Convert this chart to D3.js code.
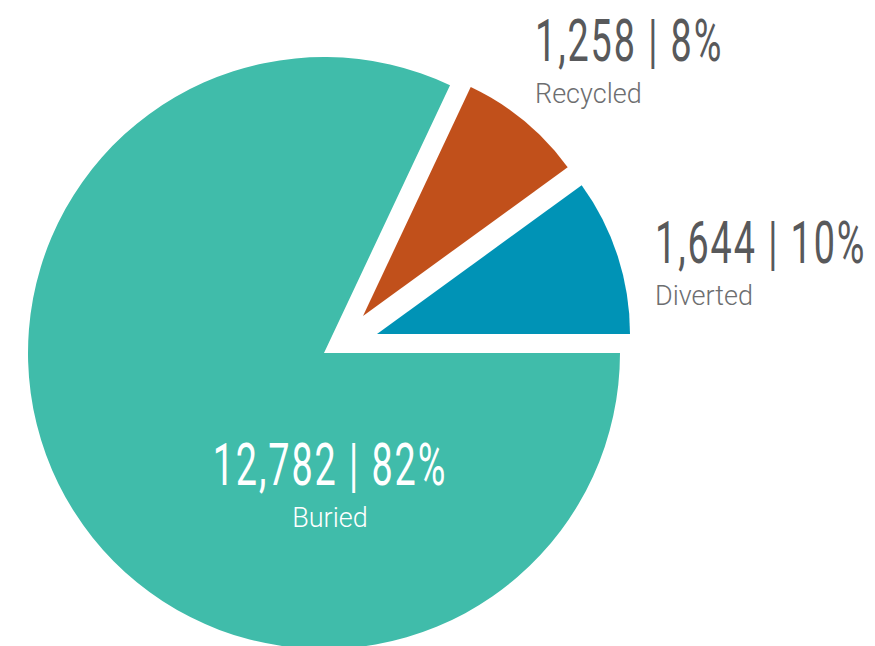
<!DOCTYPE html>
<html>
<head>
<meta charset="utf-8">
<script src="https://cdn.jsdelivr.net/npm/d3@7"></script>
<style>
  html, body { margin: 0; padding: 0; background: #fff; }
  svg { display: block; }
  .big { font-family: Roboto, "DejaVu Sans Condensed", sans-serif; font-weight: 400; letter-spacing: 3px; }
  .small { font-family: Roboto, "DejaVu Sans", sans-serif; font-weight: 300; }
</style>
</head>
<body>
<svg id="chart"></svg>
<script>
// ── data ────────────────────────────────────────────
const categories = ['Recycled', 'Diverted', 'Buried'];
const tonnes     = [1258, 1644, 12782];
const percents   = [8, 10, 82];

// ── layout ──────────────────────────────────────────
const W = 875, H = 646;
const cx = 324, cy = 353;
const R_MAIN = 296, R_SMALL = 253;
const colors  = { Recycled: '#c1501b', Diverted: '#0093b6', Buried: '#40bcaa' };
// exploded slices: shift of the slice apex from the pie centre
const explode = { Recycled: [39, -37], Diverted: [53, -19], Buried: [0, 0] };
// label anchor (baseline of the number line)
const labelPos = {
  Recycled: { x: 535, y: 61, anchor: 'start', fill: '#58595b', sub: '#6d6e70' },
  Diverted: { x: 655, y: 263, anchor: 'start', fill: '#58595b', sub: '#6d6e70' },
  Buried:   { x: 330, y: 485, anchor: 'middle', fill: '#ffffff', sub: '#ffffff' }
};
const SQUEEZE = 0.64; // condensed look for the numbers

const svg = d3.select('#chart').attr('width', W).attr('height', H);

const rows = categories.map((c, i) => ({ name: c, value: tonnes[i], pct: percents[i] }));
const total = d3.sum(percents);
const others = d3.sum(rows.filter(r => r.name !== 'Buried'), r => r.pct);

// Buried starts at 3 o'clock; the two small slices sit just before it
const start = Math.PI / 2 - 2 * Math.PI * others / total;
const pie = d3.pie().sort(null).value(d => d.pct)
  .startAngle(start).endAngle(start + 2 * Math.PI);

const arc = d3.arc().innerRadius(0)
  .outerRadius(d => d.data.name === 'Buried' ? R_MAIN : R_SMALL);

const g = svg.append('g').attr('transform', `translate(${cx},${cy})`);

g.selectAll('path.slice')
  .data(pie(rows))
  .enter().append('path')
  .attr('class', 'slice')
  .attr('d', arc)
  .attr('fill', d => colors[d.data.name])
  .attr('transform', d => `translate(${explode[d.data.name][0]},${explode[d.data.name][1]})`);

// ── labels ──────────────────────────────────────────
const fmt = d3.format(',');
rows.forEach(r => {
  const p = labelPos[r.name];
  svg.append('text')
    .attr('class', 'big')
    .attr('transform', `translate(${p.x},${p.y}) scale(${SQUEEZE},1)`)
    .attr('text-anchor', p.anchor)
    .attr('font-size', 59)
    .attr('fill', p.fill)
    .text(`${fmt(r.value)} | ${r.pct}%`);

  svg.append('text')
    .attr('class', 'small')
    .attr('x', p.x).attr('y', p.y + 42)
    .attr('text-anchor', p.anchor)
    .attr('font-size', 27)
    .attr('fill', p.sub)
    .text(r.name);
});
</script>
</body>
</html>
